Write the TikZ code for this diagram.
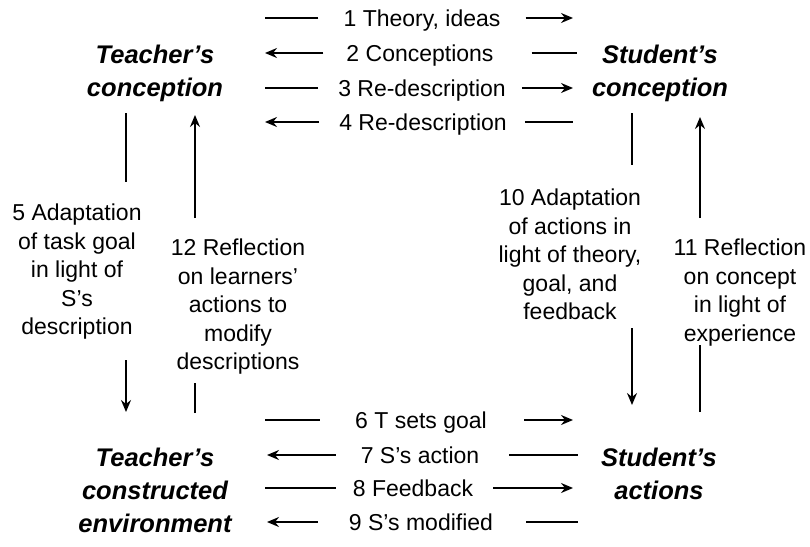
\documentclass[tikz,border=0pt]{standalone}
\usepackage{fontspec}
\setmainfont{Liberation Sans}
\usetikzlibrary{arrows.meta}

\tikzset{
	lbl/.style={
		font=\fontsize{23}{28.5}\selectfont,
		inner xsep=0pt,
		inner ysep=0pt,
		text height=16.5pt,
		text depth=0pt
	},
	side/.style={
		font=\fontsize{23}{28.5}\selectfont,
		align=center,
		anchor=north,
		inner sep=0pt
	},
	place/.style={
		font=\fontsize{25.5}{33}\selectfont\bfseries\itshape,
		align=center,
		anchor=north,
		inner sep=0pt
	},
	link/.style={
		line width=1.8pt
	},
	arrowline/.style={
		link,
		-{Stealth[length=12pt,width=10pt,inset=4pt]}
	}
}

\begin{document}
\begin{tikzpicture}[x=1pt, y=-1pt]
	\useasboundingbox (0,0) rectangle (810,546);

	% the four places
	\node[place] (tconc) at (155,45) {Teacher's\\conception};
	\node[place] (sconc) at (660,45) {Student's\\conception};
	\node[place] (tenv) at (155,448) {Teacher's\\constructed\\environment};
	\node[place] (sact) at (659,448) {Student's\\actions};

	% upper rows
	\node[lbl] (r1) at (422,18) {1 Theory, ideas};
	\coordinate (r1l) at (265,18);
	\coordinate (r1r) at (573,18);
	\draw[link, shorten <=25pt] (r1) -- (r1l);
	\draw[arrowline, shorten <=25pt] (r1) -- (r1r);

	\node[lbl] (r2) at (420,53) {2 Conceptions};
	\coordinate (r2l) at (265,53);
	\coordinate (r2r) at (577,53);
	\draw[arrowline, shorten <=23pt] (r2) -- (r2l);
	\draw[link, shorten <=38pt] (r2) -- (r2r);

	\node[lbl] (r3) at (422,88) {3 Re-description};
	\coordinate (r3l) at (265,88);
	\coordinate (r3r) at (573,88);
	\draw[link, shorten <=20pt] (r3) -- (r3l);
	\draw[arrowline, shorten <=16pt] (r3) -- (r3r);

	\node[lbl] (r4) at (423,122) {4 Re-description};
	\coordinate (r4l) at (265,122);
	\coordinate (r4r) at (573,122);
	\draw[arrowline, shorten <=20pt] (r4) -- (r4l);
	\draw[link, shorten <=18pt] (r4) -- (r4r);

	% lower rows
	\node[lbl] (r6) at (421,420) {6 T sets goal};
	\coordinate (r6l) at (265,420);
	\coordinate (r6r) at (573,420);
	\draw[link, shorten <=35pt] (r6) -- (r6l);
	\draw[arrowline, shorten <=37pt] (r6) -- (r6r);

	\node[lbl] (r7) at (420,455) {7 S's action};
	\coordinate (r7l) at (267,455);
	\coordinate (r7r) at (578,455);
	\draw[arrowline, shorten <=25pt] (r7) -- (r7l);
	\draw[link, shorten <=30pt] (r7) -- (r7r);

	\node[lbl] (r8) at (413,488) {8 Feedback};
	\coordinate (r8l) at (265,488);
	\coordinate (r8r) at (573,488);
	\draw[link, shorten <=17pt] (r8) -- (r8l);
	\draw[arrowline, shorten <=20pt] (r8) -- (r8r);

	\node[lbl] (r9) at (421,522) {9 S's modified};
	\coordinate (r9l) at (267,522);
	\coordinate (r9r) at (578,522);
	\draw[arrowline, shorten <=31pt] (r9) -- (r9l);
	\draw[link, shorten <=33pt] (r9) -- (r9r);

	% left side
	\node[side] (v5) at (77,204) {5 Adaptation\\of task goal\\in light of\\S's\\description};
	\coordinate (v5a) at (126,113);
	\coordinate (v5b) at (126,182);
	\coordinate (v5c) at (126,360);
	\coordinate (v5d) at (126,412);
	\draw[link] (v5a) -- (v5b);
	\draw[arrowline] (v5c) -- (v5d);

	\node[side] (v12) at (238,239) {12 Reflection\\on learners'\\actions to\\modify\\descriptions};
	\coordinate (v12a) at (195,413);
	\coordinate (v12b) at (195,383);
	\coordinate (v12c) at (195,218);
	\coordinate (v12d) at (195,115);
	\draw[link] (v12a) -- (v12b);
	\draw[arrowline] (v12c) -- (v12d);

	% right side
	\node[side] (v10) at (570,189) {10 Adaptation\\of actions in\\light of theory,\\goal, and\\feedback};
	\coordinate (v10a) at (632,113);
	\coordinate (v10b) at (632,165);
	\coordinate (v10c) at (632,328);
	\coordinate (v10d) at (632,405);
	\draw[link] (v10a) -- (v10b);
	\draw[arrowline] (v10c) -- (v10d);

	\node[side] (v11) at (740,239) {11 Reflection\\on concept\\in light of\\experience};
	\coordinate (v11a) at (700,412);
	\coordinate (v11b) at (700,345);
	\coordinate (v11c) at (700,218);
	\coordinate (v11d) at (700,117);
	\draw[link] (v11a) -- (v11b);
	\draw[arrowline] (v11c) -- (v11d);

\end{tikzpicture}
\end{document}
